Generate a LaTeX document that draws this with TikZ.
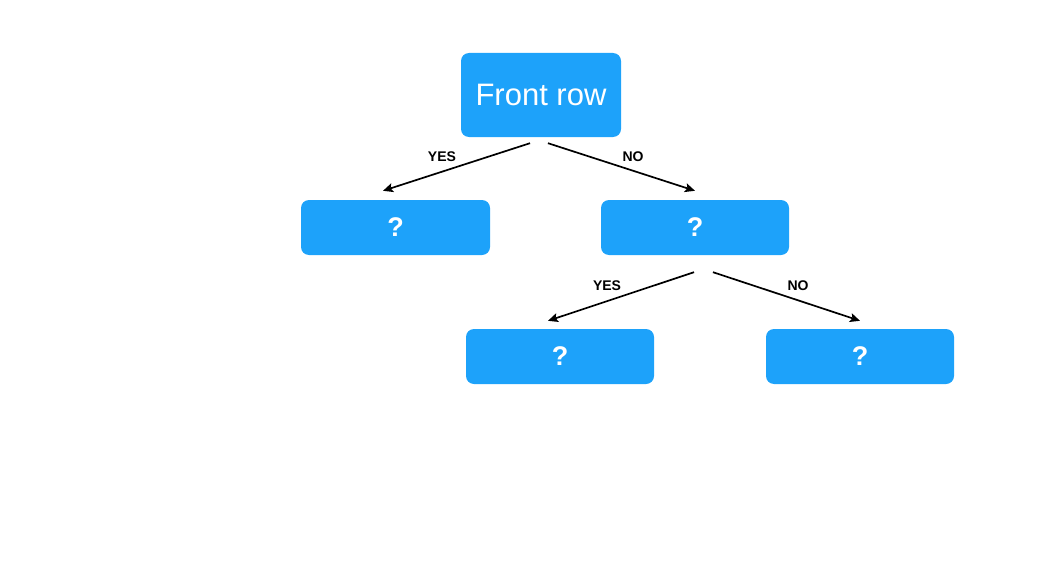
\documentclass[tikz,border=0pt]{standalone}
\usepackage{fontspec}
\setmainfont{Liberation Sans}
\usetikzlibrary{arrows.meta,calc}
\definecolor{boxblue}{RGB}{29,162,250}
\tikzset{
  box/.style={fill=boxblue, rounded corners=8pt, text=white, inner sep=0pt},
  qbox/.style={box, minimum width=188pt, minimum height=55pt, font=\fontsize{27}{30}\selectfont\bfseries},
  conn/.style={line width=1.7pt, -{Stealth[length=10pt,width=9pt,inset=2pt]}},
  lbl/.style={font=\fontsize{14}{16}\selectfont\bfseries, text=black}
}
\begin{document}
\begin{tikzpicture}[x=1pt,y=-1pt]
\useasboundingbox (0,0) rectangle (1060,586);
\node[box, minimum width=160pt, minimum height=84pt, font=\fontsize{31}{36}\selectfont] (root) at (541,95) {Front row};
\node[qbox, minimum width=189pt] (l) at (395.5,227.5) {?};
\node[qbox] (m) at (695,227.5) {?};
\node[qbox] (bl) at (560,356.5) {?};
\node[qbox] (br) at (860,356.5) {?};
\coordinate (s1) at ($(root.south)+(-11,6)$);
\coordinate (s2) at ($(root.south)+(7,6)$);
\coordinate (e1) at ($(l.north)+(-12.5,-9)$);
\coordinate (e2) at ($(m.north)+(0,-9)$);
\coordinate (s3) at ($(m.south)+(-1,17)$);
\coordinate (s4) at ($(m.south)+(18,17)$);
\coordinate (e3) at ($(bl.north)+(-12,-8)$);
\coordinate (e4) at ($(br.north)+(0,-8)$);
\draw[conn] (s1) -- (e1);
\draw[conn] (s2) -- (e2);
\draw[conn] (s3) -- (e3);
\draw[conn] (s4) -- (e4);
\node[lbl] (y1) at (442,157) {YES};
\node[lbl] (n1) at (633,157) {NO};
\node[lbl] (y2) at (607,286) {YES};
\node[lbl] (n2) at (798,286) {NO};
\end{tikzpicture}
\end{document}
